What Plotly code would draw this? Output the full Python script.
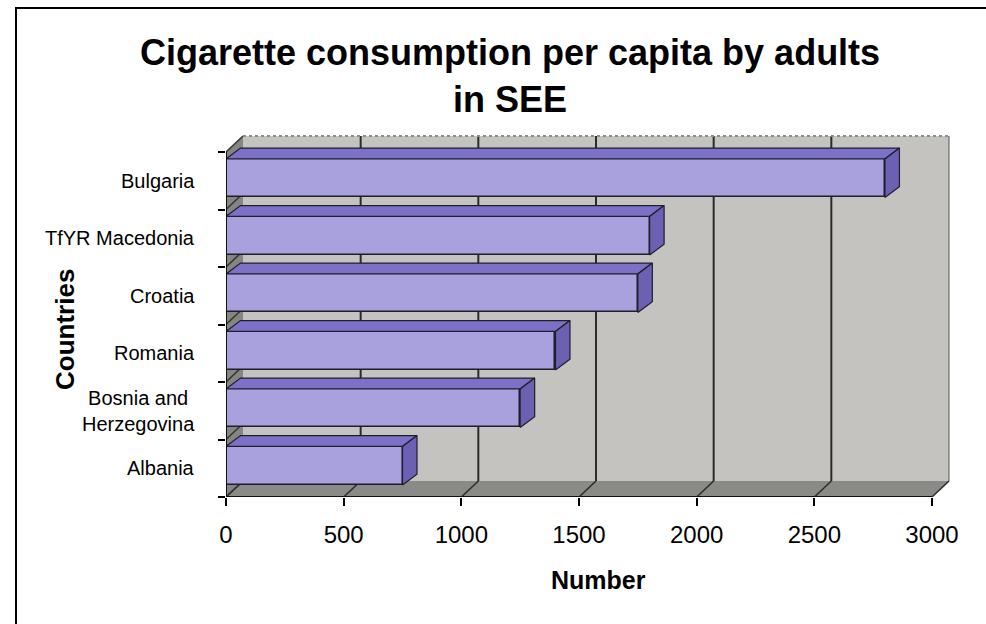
import plotly.graph_objects as go

# Data
countries = ["Albania", "Bosnia and<br>Herzegovina", "Romania", "Croatia", "TfYR Macedonia", "Bulgaria"]
consumption = [750, 1250, 1400, 1750, 1800, 2800]
x_ticks = [0, 500, 1000, 1500, 2000, 2500, 3000]

# Layout geometry (pixels)
W, H = 986, 624
ML, MR, MT, MB = 226, 35, 131, 127
PW, PH = W - ML - MR, H - MT - MB
PX_PER_X = 706 / 3000.0        # horizontal scale of the front plane
PX_PER_Y = 57.5                # one category band
XMAX = PW / PX_PER_X
YMAX = PH / PX_PER_Y
NCAT = len(countries)

# pseudo-3D depth of the walls and of the bars (data units)
WDX, WDY = 17 / PX_PER_X, 16 / PX_PER_Y
BDX, BDY = 14.5 / PX_PER_X, 10.8 / PX_PER_Y
BAR_LO, BAR_HI = 0.21, 0.88

FRONT = "#a9a1dd"
TOP = "#7c71c7"
SIDE = "#6b60b2"
EDGE = "#1e1e2c"
WALL = "#c4c3c0"
FLOOR = "#8a8a86"
FONT = "Liberation Sans, Arial, sans-serif"

fig = go.Figure()

XEND = x_ticks[-1]
shapes = []
# back wall
shapes.append(dict(type="rect", xref="x", yref="y", layer="below",
                   x0=WDX, x1=XEND + WDX, y0=WDY, y1=NCAT + WDY,
                   fillcolor=WALL, line=dict(width=0)))
# right edge of the back wall
shapes.append(dict(type="line", xref="x", yref="y", layer="below",
                   x0=XEND + WDX, x1=XEND + WDX, y0=WDY, y1=NCAT + WDY,
                   line=dict(color="#555555", width=1)))
# floor
shapes.append(dict(type="path", xref="x", yref="y", layer="below",
                   path=f"M 0 0 L {XEND} 0 L {XEND + WDX} {WDY} L {WDX} {WDY} Z",
                   fillcolor=FLOOR, line=dict(width=0)))
# left side wall
shapes.append(dict(type="path", xref="x", yref="y", layer="below",
                   path=f"M 0 0 L 0 {NCAT} L {WDX} {NCAT + WDY} L {WDX} {WDY} Z",
                   fillcolor="#858581", line=dict(width=0)))
# gridlines on back wall and floor
for v in x_ticks:
    if 0 < v < XEND:
        shapes.append(dict(type="line", xref="x", yref="y", layer="below",
                           x0=v + WDX, x1=v + WDX, y0=WDY, y1=NCAT + WDY,
                           line=dict(color="#2b2b2b", width=2)))
    shapes.append(dict(type="line", xref="x", yref="y", layer="below",
                       x0=v, x1=v + WDX, y0=0, y1=WDY,
                       line=dict(color="#2b2b2b", width=1.5)))
# gridlines on the side wall
for i in range(NCAT + 1):
    shapes.append(dict(type="line", xref="x", yref="y", layer="below",
                       x0=0, x1=WDX, y0=i, y1=i + WDY,
                       line=dict(color="#333333", width=1.5)))
# dotted top edge of the back wall
shapes.append(dict(type="line", xref="x", yref="y", layer="below",
                   x0=WDX, x1=XEND + WDX, y0=NCAT + WDY, y1=NCAT + WDY,
                   line=dict(color="#8c8c8c", width=2, dash="dot")))

# outer frame of the chart area
def px_x(px):
    return (px - ML) / PW

def px_y(py):
    return (H - MB - py) / PH

shapes.append(dict(type="rect", xref="paper", yref="paper",
                   x0=px_x(16), x1=px_x(W + 20), y0=px_y(H + 20), y1=px_y(8),
                   line=dict(color="black", width=2), fillcolor="rgba(0,0,0,0)"))

# front faces of the bars
centers = [i + (BAR_LO + BAR_HI) / 2 for i in range(NCAT)]
fig.add_trace(go.Bar(
    x=consumption, y=centers, orientation="h", width=BAR_HI - BAR_LO, base=0,
    marker=dict(color=FRONT, line=dict(color=EDGE, width=1.5)),
    hoverinfo="skip", showlegend=False))

# top and right faces of the bars
for i, v in enumerate(consumption):
    yb, yt = i + BAR_LO, i + BAR_HI
    fig.add_trace(go.Scatter(
        x=[0, v, v + BDX, BDX, 0], y=[yt, yt, yt + BDY, yt + BDY, yt],
        mode="lines", fill="toself", fillcolor=TOP,
        line=dict(color=EDGE, width=1.2), hoverinfo="skip", showlegend=False))
    fig.add_trace(go.Scatter(
        x=[v, v + BDX, v + BDX, v, v], y=[yb, yb + BDY, yt + BDY, yt, yb],
        mode="lines", fill="toself", fillcolor=SIDE,
        line=dict(color=EDGE, width=1.2), hoverinfo="skip", showlegend=False))

# front edges of floor and side wall
fig.add_trace(go.Scatter(x=[0, XEND], y=[0, 0], mode="lines",
                         line=dict(color="#111111", width=2), cliponaxis=False,
                         hoverinfo="skip", showlegend=False))
fig.add_trace(go.Scatter(x=[0, 0], y=[0, NCAT], mode="lines",
                         line=dict(color="#111111", width=2), cliponaxis=False,
                         hoverinfo="skip", showlegend=False))

annotations = []
# category labels
for i, name in enumerate(countries):
    annotations.append(dict(text=name, xref="paper", yref="y", x=px_x(197), y=i + 0.5,
                            xanchor="right", yanchor="middle", align="center",
                            showarrow=False, font=dict(family=FONT, size=20, color="black")))
# titles
annotations.append(dict(text="<b>Cigarette consumption per capita by adults<br>in SEE</b>",
                        xref="paper", yref="paper", x=px_x(510), y=px_y(76),
                        xanchor="center", yanchor="middle", align="center", showarrow=False,
                        font=dict(family=FONT, size=36, color="black")))
annotations.append(dict(text="<b>Number</b>", xref="paper", yref="paper",
                        x=px_x(598), y=px_y(580), xanchor="center", yanchor="middle",
                        showarrow=False, font=dict(family=FONT, size=25, color="black")))
annotations.append(dict(text="<b>Countries</b>", xref="paper", yref="paper",
                        x=px_x(65), y=px_y(330), xanchor="center", yanchor="middle",
                        textangle=-90, showarrow=False,
                        font=dict(family=FONT, size=26, color="black")))

fig.update_layout(
    width=W, height=H,
    margin=dict(l=ML, r=MR, t=MT, b=MB, autoexpand=False),
    paper_bgcolor="white", plot_bgcolor="white",
    shapes=shapes, annotations=annotations,
    bargap=0,
    xaxis=dict(range=[0, XMAX], tickvals=x_ticks, ticktext=[str(t) for t in x_ticks],
               ticks="outside", ticklen=8, tickwidth=2, tickcolor="black",
               showgrid=False, zeroline=False, showline=False,
               ticklabelstandoff=8,
               tickfont=dict(family=FONT, size=24, color="black"), fixedrange=True),
    yaxis=dict(range=[0, YMAX], tickvals=list(range(NCAT + 1)),
               ticks="outside", ticklen=7, tickwidth=2, tickcolor="black",
               showticklabels=False, showgrid=False, zeroline=False, showline=False,
               fixedrange=True),
)

fig.write_html("out.html")
